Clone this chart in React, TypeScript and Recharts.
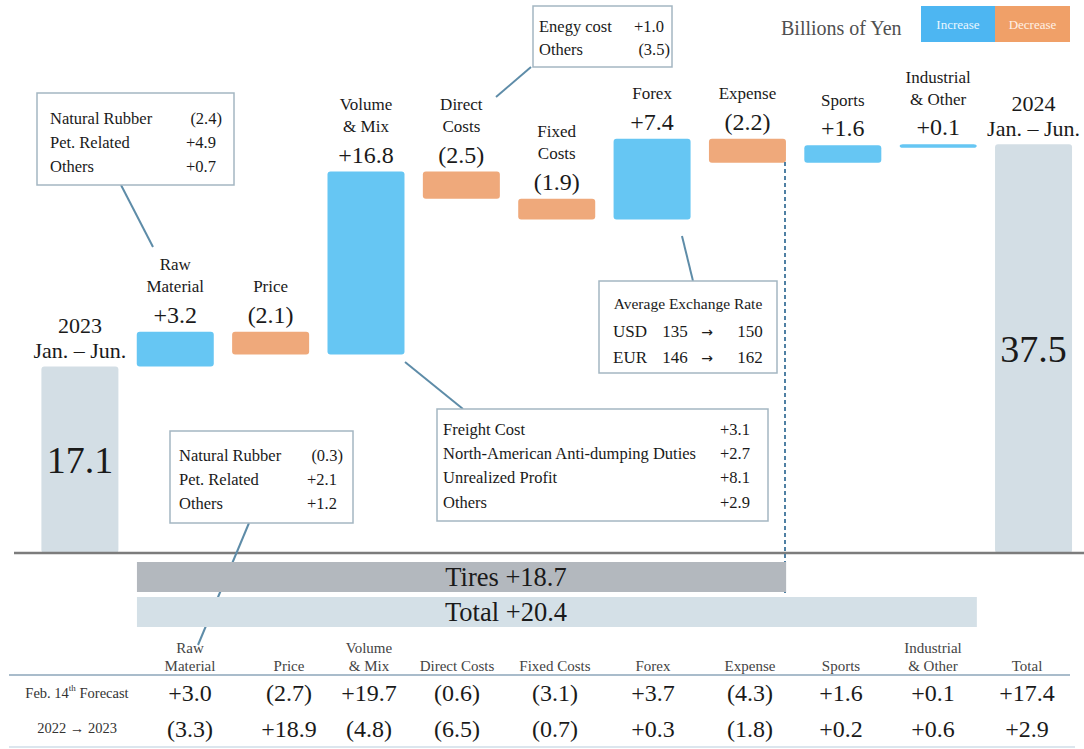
import React from 'react';
import { BarChart, Bar, XAxis, YAxis } from 'recharts';

// ---------------- data ----------------
const categoryLines: string[][] = [
  ['2023', 'Jan. – Jun.'],
  ['Raw', 'Material'],
  ['Price'],
  ['Volume', '& Mix'],
  ['Direct', 'Costs'],
  ['Fixed', 'Costs'],
  ['Forex'],
  ['Expense'],
  ['Sports'],
  ['Industrial', '& Other'],
  ['2024', 'Jan. – Jun.'],
];
const stepValues = [17.1, 3.2, -2.1, 16.8, -2.5, -1.9, 7.4, -2.2, 1.6, 0.1, 37.5];
const stepKinds = ['total', 'step', 'step', 'step', 'step', 'step', 'step', 'step', 'step', 'step', 'total'];

const tiresTotal = 18.7;
const grandTotal = 20.4;

const tableHeaders: string[][] = [
  ['Raw', 'Material'], ['Price'], ['Volume', '& Mix'], ['Direct Costs'], ['Fixed Costs'],
  ['Forex'], ['Expense'], ['Sports'], ['Industrial', '& Other'], ['Total'],
];
const forecastValues = [3.0, -2.7, 19.7, -0.6, -3.1, 3.7, -4.3, 1.6, 0.1, 17.4];
const prevYearValues = [-3.3, 18.9, -4.8, -6.5, -0.7, 0.3, -1.8, 0.2, 0.6, 2.9];

const rawMaterialBreakdown: [string, number][] = [['Natural Rubber', -2.4], ['Pet. Related', 4.9], ['Others', 0.7]];
const forecastRawBreakdown: [string, number][] = [['Natural Rubber', -0.3], ['Pet. Related', 2.1], ['Others', 1.2]];
const directCostBreakdown: [string, number][] = [['Enegy cost', 1.0], ['Others', -3.5]];
const volumeBreakdown: [string, number][] = [
  ['Freight Cost', 3.1], ['North-American Anti-dumping Duties', 2.7], ['Unrealized Profit', 8.1], ['Others', 2.9],
];
const exchangeRates: [string, number, number][] = [['USD', 135, 150], ['EUR', 146, 162]];

// ---------------- styles ----------------
const SERIF = 'Liberation Serif';
const BLUE = '#66C6F3';
const ORANGE = '#EFA97B';
const TOTAL = '#D3DEE5';
const LINE = '#5E8CA8';
const BOX = '#A4B6C2';
const TXT = '#1a1a1a';

const W = 1084;
const H = 749;
const M = { top: 8, right: 2.6, bottom: 196, left: 32.4 };
const BAR = 77;
const band = (W - M.left - M.right) / stepValues.length;

const fmt = (v: number) => (v >= 0 ? `+${v.toFixed(1)}` : `(${Math.abs(v).toFixed(1)})`);

// build waterfall rows
let running = 0;
const data = stepValues.map((v, i) => {
  let base: number;
  let delta: number;
  if (stepKinds[i] === 'total') {
    base = 0;
    delta = v;
    running = v;
  } else {
    const next = running + v;
    base = Math.min(running, next);
    delta = Math.abs(v);
    running = next;
  }
  return { name: categoryLines[i].join(' '), base, delta, value: v, kind: stepKinds[i], up: v >= 0 };
});

const T = ({ font, ...p }: any) => (
  <text dominantBaseline="central" fill={TXT} {...p} style={{ fontFamily: font || SERIF }} />
);

const WaterfallShape = (props: any) => {
  const { x, y, width, height, index } = props;
  const row = data[index];
  const h = Math.max(height, 3.5);
  const cx = x + width / 2;
  const fill = row.kind === 'total' ? TOTAL : row.up ? BLUE : ORANGE;
  const lines = categoryLines[index];
  const els: React.ReactNode[] = [];
  if (row.kind === 'total') {
    lines.forEach((t, k) => {
      els.push(
        <T key={'l' + k} x={cx} y={y - 16 - (lines.length - 1 - k) * 25} textAnchor="middle" fontSize={22}>{t}</T>
      );
    });
    els.push(
      <T key="v" x={cx} y={y + h / 2} textAnchor="middle" fontSize={38}>{row.value.toFixed(1)}</T>
    );
  } else {
    lines.forEach((t, k) => {
      els.push(
        <T key={'l' + k} x={cx} y={y - 45 - (lines.length - 1 - k) * 22} textAnchor="middle" fontSize={17}>{t}</T>
      );
    });
    els.push(
      <T key="v" x={cx} y={y - 17} textAnchor="middle" fontSize={24}>{fmt(row.value)}</T>
    );
  }
  return (
    <g>
      <rect x={x} y={y} width={width} height={h} rx={3} ry={3} fill={fill} />
      {els}
    </g>
  );
};

// ---------------- annotation helpers ----------------
const Callout = ({ x, y, w, h, rows, labelX, valueX, rowY, fontSize = 16.5 }: {
  x: number; y: number; w: number; h: number; rows: [string, number][];
  labelX: number; valueX: number; rowY: number[]; fontSize?: number;
}) => (
  <g>
    <rect x={x} y={y} width={w} height={h} fill="#fff" stroke={BOX} strokeWidth={1.5} />
    {rows.map(([label, v], i) => (
      <g key={i}>
        <T x={labelX} y={rowY[i]} fontSize={fontSize}>{label}</T>
        <T x={valueX + (v < 0 ? 6 : 0)} y={rowY[i]} textAnchor="end" fontSize={fontSize}>{fmt(v)}</T>
      </g>
    ))}
  </g>
);

const colLeft = (i: number) => M.left + band * i + (band - BAR) / 2;
const colRight = (i: number) => colLeft(i) + BAR;

const tableCols = [190, 289, 369, 457, 555, 653, 750, 841, 933, 1027];

const Overlay = () => (
  <svg width={W} height={H} style={{ position: 'absolute', left: 0, top: 0, pointerEvents: 'none' }}>
    {/* legend */}
    <T x={781} y={28} fontSize={20} fill="#505050">Billions of Yen</T>
    <rect x={921} y={6} width={74} height={36} fill="#4DB6F2" />
    <rect x={995} y={6} width={75} height={36} fill="#F0A068" />
    <T x={958} y={24} textAnchor="middle" fontSize={13} fill="#EAF6FF">Increase</T>
    <T x={1032.5} y={24} textAnchor="middle" fontSize={13} fill="#FFF1E6">Decrease</T>

    {/* baseline */}
    <line x1={14} y1={553} x2={W} y2={553} stroke="#7c7c7c" strokeWidth={2.5} />

    {/* dashed separator */}
    <line x1={785} y1={162} x2={785} y2={596} stroke="#4F80A3" strokeWidth={2} strokeDasharray="4 3" />

    {/* connectors */}
    <line x1={121} y1={185} x2={153} y2={247} stroke={LINE} strokeWidth={2} />
    <line x1={531} y1={67} x2={496} y2={97} stroke={LINE} strokeWidth={2} />
    <line x1={682} y1={236} x2={693} y2={281} stroke={LINE} strokeWidth={2} />
    <line x1={405} y1={362} x2={463} y2={409} stroke={LINE} strokeWidth={2} />
    <line x1={249} y1={523} x2={198} y2={645} stroke={LINE} strokeWidth={2} />

    {/* callouts */}
    <Callout x={37} y={93} w={197} h={92} rows={rawMaterialBreakdown} labelX={50} valueX={216} rowY={[118, 142, 166]} />
    <Callout x={533} y={6} w={139} h={61} rows={directCostBreakdown} labelX={539} valueX={664} rowY={[26, 49]} />
    <Callout x={437} y={409} w={331} h={112} rows={volumeBreakdown} labelX={443} valueX={750} rowY={[429, 453, 477, 502]} />
    <Callout x={170} y={431} w={183} h={92} rows={forecastRawBreakdown} labelX={179} valueX={337} rowY={[455, 479, 503]} />

    {/* exchange rate box */}
    <rect x={599} y={281} width={178} height={92} fill="#fff" stroke={BOX} strokeWidth={1.5} />
    <T x={688} y={303} textAnchor="middle" fontSize={15.5}>Average Exchange Rate</T>
    {exchangeRates.map(([cur, a, b], i) => (
      <g key={cur}>
        <T x={613} y={331 + i * 26} fontSize={17}>{cur}</T>
        <T x={675} y={331 + i * 26} textAnchor="middle" fontSize={17}>{a}</T>
        <T x={707} y={332 + i * 26} textAnchor="middle" fontSize={14} font="DejaVu Sans">→</T>
        <T x={750} y={331 + i * 26} textAnchor="middle" fontSize={17}>{b}</T>
      </g>
    ))}

    {/* segment totals */}
    <rect x={colLeft(1)} y={562} width={colRight(7) - colLeft(1)} height={30} fill="#B3B8BE" />
    <T x={506} y={577} textAnchor="middle" fontSize={26.5}>{`Tires ${fmt(tiresTotal)}`}</T>
    <rect x={colLeft(1)} y={597} width={colRight(9) - colLeft(1)} height={30} fill="#D4E0E7" />
    <T x={506} y={612} textAnchor="middle" fontSize={26.5}>{`Total ${fmt(grandTotal)}`}</T>

    {/* table */}
    {tableHeaders.map((lines, i) =>
      lines.map((t, k) => (
        <T key={i + '-' + k} x={tableCols[i]} y={666 - (lines.length - 1 - k) * 18} textAnchor="middle" fontSize={15} fill="#444">{t}</T>
      ))
    )}
    <line x1={9} y1={675} x2={1070} y2={675} stroke="#A9BCCB" strokeWidth={2} />
    <T x={77} y={693} textAnchor="middle" fontSize={14.5} fill="#333">
      Feb. 14<tspan fontSize={9} dy={-5}>th</tspan><tspan dy={5}> Forecast</tspan>
    </T>
    <T x={77} y={728} textAnchor="middle" fontSize={14.5} fill="#333">2022 → 2023</T>
    {forecastValues.map((v, i) => (
      <T key={'f' + i} x={tableCols[i]} y={693} textAnchor="middle" fontSize={24}>{fmt(v)}</T>
    ))}
    {prevYearValues.map((v, i) => (
      <T key={'p' + i} x={tableCols[i]} y={729} textAnchor="middle" fontSize={24}>{fmt(v)}</T>
    ))}
    <line x1={9} y1={747} x2={1075} y2={747} stroke="#DCE6EE" strokeWidth={2} />
  </svg>
);

export default function App() {
  return (
    <div style={{ position: 'absolute', left: 0, top: 0, width: W, height: H, background: '#fff', fontFamily: SERIF }}>
      <BarChart width={W} height={H} data={data} margin={M} barSize={BAR}>
        <XAxis dataKey="name" hide />
        <YAxis hide domain={[0, 50]} />
        <Bar dataKey="base" stackId="w" fill="transparent" isAnimationActive={false} />
        <Bar dataKey="delta" stackId="w" shape={<WaterfallShape />} isAnimationActive={false} />
      </BarChart>
      <Overlay />
    </div>
  );
}
